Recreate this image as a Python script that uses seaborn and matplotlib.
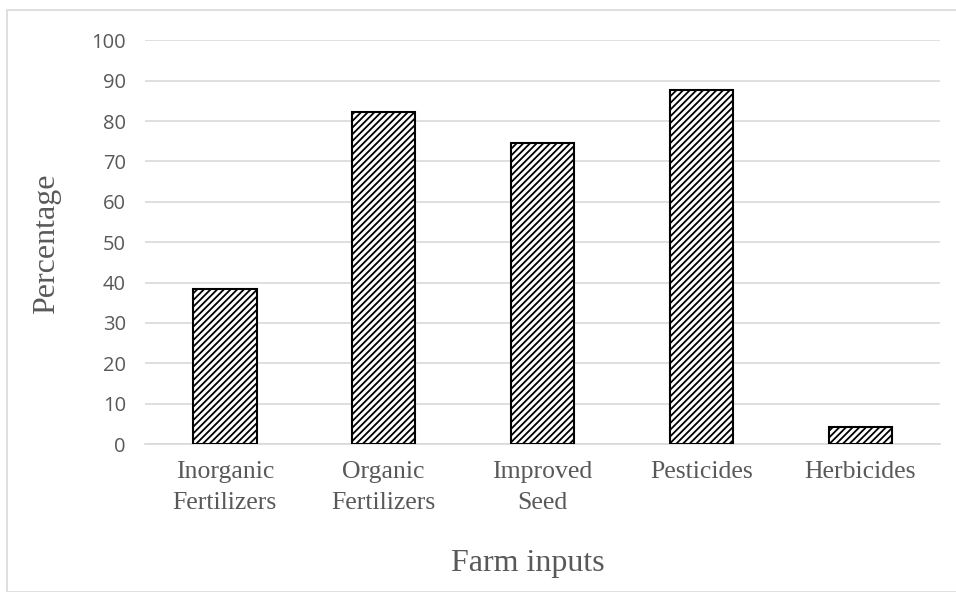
import numpy as np
import pandas as pd
import matplotlib
matplotlib.use('Agg')
import matplotlib.pyplot as plt
import seaborn as sb
from matplotlib.patches import Rectangle

# values
inputs = ['Inorganic\nFertilizers', 'Organic\nFertilizers', 'Improved\nSeed',
          'Pesticides', 'Herbicides']
percentage = [38.3, 82.3, 74.6, 87.6, 4.2]
y_ticks = list(range(0, 101, 10))

frame = pd.DataFrame({'Input': inputs, 'Percentage': percentage})

sb.set_style('white')
plt.rcParams['hatch.linewidth'] = 1.3
plt.rcParams['hatch.color'] = '#3a3a3a'

fig = plt.figure(figsize=(9.56, 5.92), dpi=100)
ax = fig.add_axes([0.152, 0.25, 0.831, 0.682])

sb.barplot(data=frame, x='Input', y='Percentage', ax=ax, color='white',
           width=0.4, edgecolor='black', linewidth=1.5, zorder=3)
for bar in ax.patches:
    bar.set_hatch('/////')

ax.set_ylim(0, 100)
ax.set_yticks(y_ticks)
ax.set_xlim(-0.5, len(inputs) - 0.5)
ax.grid(axis='y', color='#d9d9d9', linewidth=1.2, zorder=0)
for side in ['top', 'right', 'left']:
    ax.spines[side].set_visible(False)
ax.spines['bottom'].set_color('#d9d9d9')
ax.spines['bottom'].set_linewidth(1.2)
ax.tick_params(axis='both', length=0, colors='#595959')
ax.tick_params(axis='y', pad=14)
ax.tick_params(axis='x', pad=12)

for lab in ax.get_yticklabels():
    lab.set_fontfamily('Open Sans')
    lab.set_fontsize(14.5)
    lab.set_color('#595959')
for lab in ax.get_xticklabels():
    lab.set_fontfamily('Liberation Serif')
    lab.set_fontsize(18.5)
    lab.set_color('#595959')
    lab.set_linespacing(1.55)

ax.set_xlabel('Farm inputs', fontfamily='Liberation Serif', fontsize=23,
              color='#595959')
ax.set_ylabel('Percentage', fontfamily='Liberation Serif', fontsize=23,
              color='#595959')
ax.xaxis.set_label_coords(0.482, -0.26)
ax.yaxis.set_label_coords(-0.106, 0.495)

# light frame around the chart area like the original export
fig.patches.append(Rectangle((0.007, 0.0), 1.2, 0.983, transform=fig.transFigure,
                             fill=False, edgecolor='#d9d9d9', linewidth=1.2))

fig.savefig('out.png', dpi=100)
